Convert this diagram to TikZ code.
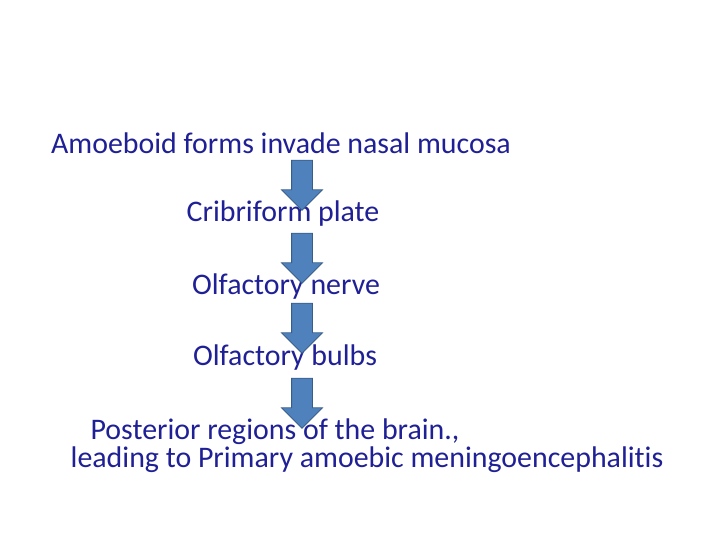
\documentclass[tikz,border=0pt]{standalone}
\usepackage{fontspec}
\setmainfont{Carlito}[Ligatures={NoCommon}]
\usetikzlibrary{shapes.arrows}
\definecolor{txtblue}{RGB}{32,32,150}
\definecolor{arrfill}{RGB}{79,129,189}
\definecolor{arrline}{RGB}{56,93,138}
\begin{document}
\begin{tikzpicture}[x=1bp,y=-1bp]
     \useasboundingbox (0,0) rectangle (720,540);
     \tikzstyle{every node} = [text=txtblue,font=\fontsize{30}{34}\selectfont,inner sep=0pt]
     \tikzstyle{down} = [single arrow,shape border rotate=270,fill=arrfill,draw=arrline,line width=0.8pt,inner sep=10bp,minimum width=40bp,single arrow head extend=10bp,minimum height=50bp]
     \node (invade) at (281,143) {Amoeboid forms invade nasal mucosa};
     \node (plate) at (283,214) {Cribriform plate};
     \node (nerve) at (286,287) {Olfactory nerve};
     \node (bulbs) at (285,358) {Olfactory bulbs};
     \node (post1) at (275,432) {Posterior regions of the brain.,};
     \node (post2) at (367,460) {leading to Primary amoebic meningoencephalitis};
     \node [down] (a1) at (302,180) {};
     \node [down] (a2) at (302,253) {};
     \node [down] (a3) at (302,323) {};
     \node [down] (a4) at (302,398) {};
   \end{tikzpicture}
\end{document}
